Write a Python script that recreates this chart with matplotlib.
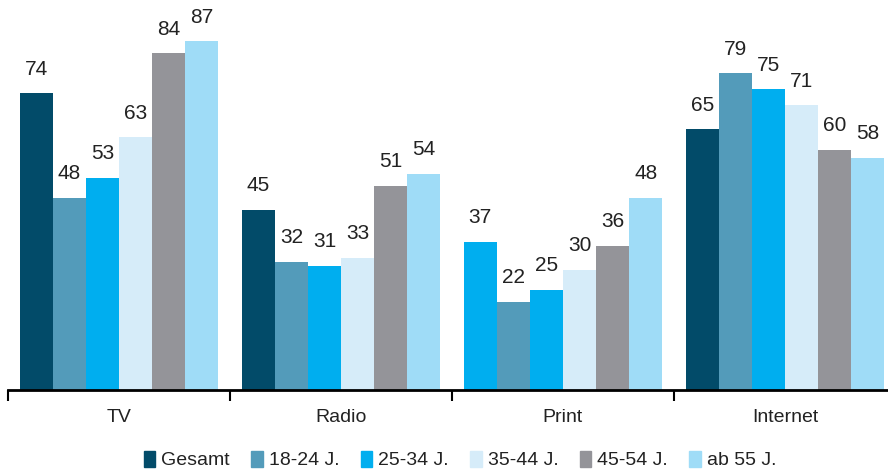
import numpy as np
import matplotlib.pyplot as plt
from matplotlib.patches import Patch

plt.rcParams['font.family'] = ['Liberation Sans Narrow', 'Liberation Sans', 'DejaVu Sans']

categories = ['TV', 'Radio', 'Print', 'Internet']
series = ['Gesamt', '18-24 J.', '25-34 J.', '35-44 J.', '45-54 J.', 'ab 55 J.']
gesamt = [74, 45, 37, 65]
j18_24 = [48, 32, 22, 79]
j25_34 = [53, 31, 25, 75]
j35_44 = [63, 33, 30, 71]
j45_54 = [84, 51, 36, 60]
ab55 = [87, 54, 48, 58]
values = [gesamt, j18_24, j25_34, j35_44, j45_54, ab55]

colors = ['#024b69', '#539bba', '#00aeef', '#d6ecf9', '#949499', '#9fdcf7']
text_color = '#222222'

fig = plt.figure(figsize=(8.88, 4.73), dpi=100)
ax = fig.add_axes([8 / 888, 83 / 473, 888 / 888, 390 / 473])

x = np.arange(len(categories))
w = 0.149
for i, (name, vals) in enumerate(zip(series, values)):
    bar_colors = [colors[i]] * len(categories)
    if i == 0:
        # Print total is shown in the 25-34 blue
        bar_colors[2] = colors[2]
    pos = x + (i - 2.5) * w
    ax.bar(pos, vals, width=w, color=bar_colors, linewidth=0)
    for px, v in zip(pos, vals):
        ax.annotate(str(v), (px, v), xytext=(0, 10.5), textcoords='offset points',
                    ha='center', va='bottom', fontsize=15, color=text_color)

ax.set_xlim(-0.5, 3.5)
ax.set_ylim(0, 97.3)
for s in ['top', 'right', 'left']:
    ax.spines[s].set_visible(False)
ax.spines['bottom'].set_linewidth(2)
ax.set_yticks([])
ax.set_xticks(x)
ax.set_xticklabels(categories, fontsize=14, color=text_color)
ax.tick_params(axis='x', which='major', length=0, pad=14)
ax.set_xticks(np.arange(-0.5, 4, 1), minor=True)
ax.tick_params(axis='x', which='minor', length=8, width=1.5)

handles = [Patch(color=c, label=s) for c, s in zip(colors, series)]
leg = fig.legend(handles=handles, loc='center', bbox_to_anchor=(0.518, 13 / 473),
                 ncol=6, frameon=False, fontsize=14, handlelength=0.6,
                 handleheight=0.9, handletextpad=0.3, columnspacing=1.1)
for t in leg.get_texts():
    t.set_color(text_color)

fig.savefig('out.png', dpi=100)
